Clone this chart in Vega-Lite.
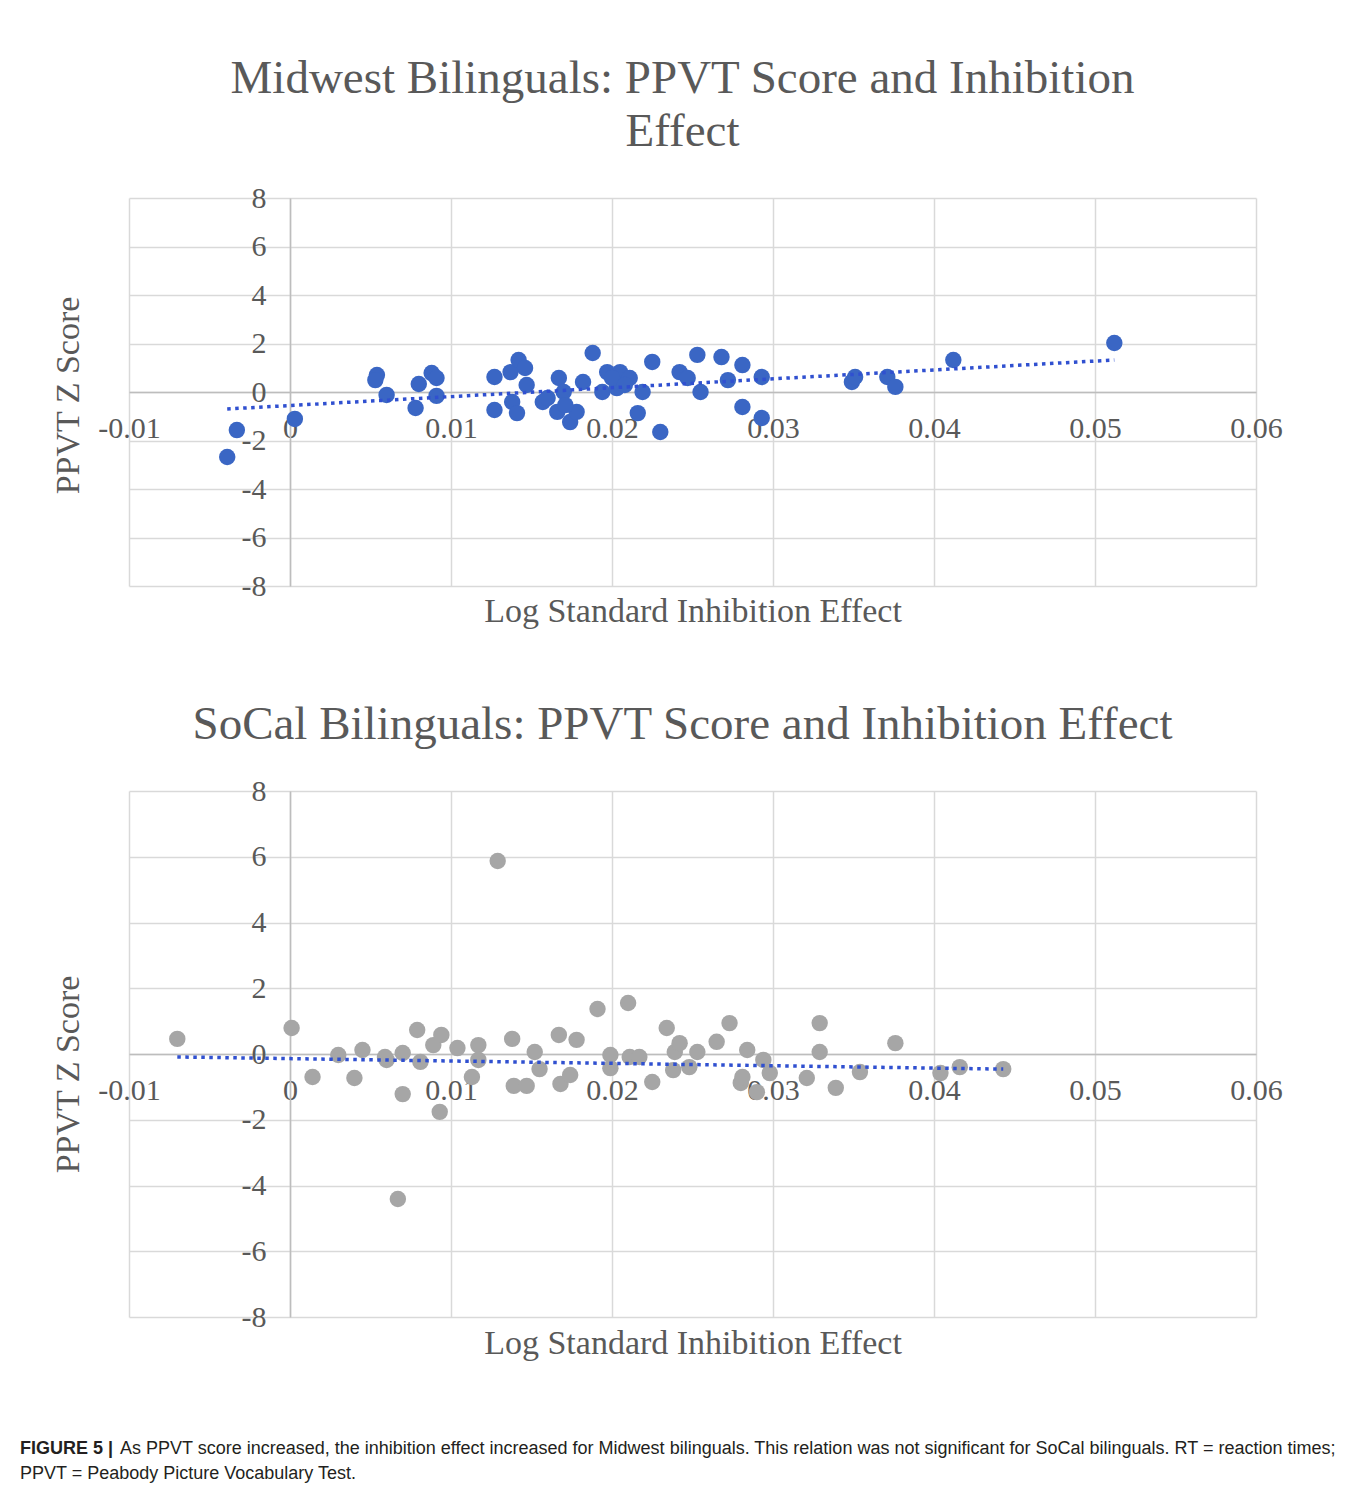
{
  "$schema": "https://vega.github.io/schema/vega-lite/v6.json",
  "background": "white",
  "padding": {"left": 19, "top": 55, "right": 10, "bottom": 10},
  "spacing": 73,
  "config": {
    "view": {"stroke": null},
    "font": "Liberation Serif",
    "axis": {
      "grid": true,
      "gridColor": "#d9d9d9",
      "gridWidth": 1.5,
      "domainColor": "#bdbdbd",
      "domainWidth": 1.5,
      "ticks": false,
      "labelFont": "Liberation Serif",
      "labelFontSize": 30,
      "labelColor": "#595959",
      "labelOverlap": false,
      "labelBound": false,
      "labelFlush": false,
      "titleFont": "Liberation Serif",
      "titleFontSize": 34,
      "titleFontWeight": "normal",
      "titleColor": "#595959"
    },
    "title": {"font": "Liberation Serif", "fontSize": 47, "fontWeight": "normal", "color": "#595959"}
  },
  "datasets": {
    "midwest": [
      {"effect": -0.0039, "ppvt": -2.68}, {"effect": -0.0033, "ppvt": -1.57}, {"effect": 0.0003, "ppvt": -1.11},
      {"effect": 0.0054, "ppvt": 0.70}, {"effect": 0.0053, "ppvt": 0.49}, {"effect": 0.0060, "ppvt": -0.12},
      {"effect": 0.0078, "ppvt": -0.66}, {"effect": 0.0080, "ppvt": 0.33}, {"effect": 0.0088, "ppvt": 0.78},
      {"effect": 0.0091, "ppvt": 0.58}, {"effect": 0.0091, "ppvt": -0.16}, {"effect": 0.0127, "ppvt": 0.62},
      {"effect": 0.0127, "ppvt": -0.74}, {"effect": 0.0137, "ppvt": 0.82}, {"effect": 0.0142, "ppvt": 1.32},
      {"effect": 0.0146, "ppvt": 0.99}, {"effect": 0.0147, "ppvt": 0.29}, {"effect": 0.0138, "ppvt": -0.41},
      {"effect": 0.0141, "ppvt": -0.87}, {"effect": 0.0157, "ppvt": -0.41}, {"effect": 0.0167, "ppvt": 0.58},
      {"effect": 0.0170, "ppvt": 0.0}, {"effect": 0.0166, "ppvt": -0.82}, {"effect": 0.0174, "ppvt": -1.24},
      {"effect": 0.0178, "ppvt": -0.82}, {"effect": 0.0182, "ppvt": 0.41}, {"effect": 0.0188, "ppvt": 1.61},
      {"effect": 0.0197, "ppvt": 0.82}, {"effect": 0.0205, "ppvt": 0.82}, {"effect": 0.0194, "ppvt": 0.0},
      {"effect": 0.0203, "ppvt": 0.16}, {"effect": 0.0211, "ppvt": 0.58}, {"effect": 0.0219, "ppvt": 0.0},
      {"effect": 0.0216, "ppvt": -0.87}, {"effect": 0.0225, "ppvt": 1.24}, {"effect": 0.0230, "ppvt": -1.65},
      {"effect": 0.0242, "ppvt": 0.82}, {"effect": 0.0247, "ppvt": 0.58}, {"effect": 0.0255, "ppvt": 0.0},
      {"effect": 0.0253, "ppvt": 1.53}, {"effect": 0.0268, "ppvt": 1.44}, {"effect": 0.0281, "ppvt": 1.11},
      {"effect": 0.0272, "ppvt": 0.49}, {"effect": 0.0293, "ppvt": 0.62}, {"effect": 0.0281, "ppvt": -0.62},
      {"effect": 0.0293, "ppvt": -1.07}, {"effect": 0.0349, "ppvt": 0.41}, {"effect": 0.0351, "ppvt": 0.62},
      {"effect": 0.0371, "ppvt": 0.62}, {"effect": 0.0376, "ppvt": 0.21}, {"effect": 0.0412, "ppvt": 1.32},
      {"effect": 0.0512, "ppvt": 2.02}, {"effect": 0.0200, "ppvt": 0.58}, {"effect": 0.0208, "ppvt": 0.29},
      {"effect": 0.0171, "ppvt": -0.54}, {"effect": 0.0160, "ppvt": -0.25}
    ],
    "midwest_trend": [
      {"effect": -0.0039, "ppvt": -0.70}, {"effect": 0.0512, "ppvt": 1.32}
    ],
    "socal": [
      {"effect": -0.0070, "ppvt": 0.46}, {"effect": 0.0001, "ppvt": 0.79}, {"effect": 0.0014, "ppvt": -0.70},
      {"effect": 0.0030, "ppvt": -0.03}, {"effect": 0.0040, "ppvt": -0.73}, {"effect": 0.0045, "ppvt": 0.12},
      {"effect": 0.0060, "ppvt": -0.18}, {"effect": 0.0070, "ppvt": 0.03}, {"effect": 0.0059, "ppvt": -0.09},
      {"effect": 0.0079, "ppvt": 0.73}, {"effect": 0.0081, "ppvt": -0.24}, {"effect": 0.0070, "ppvt": -1.22},
      {"effect": 0.0067, "ppvt": -4.41}, {"effect": 0.0089, "ppvt": 0.27}, {"effect": 0.0094, "ppvt": 0.58},
      {"effect": 0.0093, "ppvt": -1.76}, {"effect": 0.0104, "ppvt": 0.18}, {"effect": 0.0117, "ppvt": 0.27},
      {"effect": 0.0113, "ppvt": -0.70}, {"effect": 0.0117, "ppvt": -0.18}, {"effect": 0.0129, "ppvt": 5.87},
      {"effect": 0.0138, "ppvt": 0.46}, {"effect": 0.0139, "ppvt": -0.97}, {"effect": 0.0147, "ppvt": -0.97},
      {"effect": 0.0152, "ppvt": 0.06}, {"effect": 0.0155, "ppvt": -0.46}, {"effect": 0.0167, "ppvt": 0.58},
      {"effect": 0.0178, "ppvt": 0.43}, {"effect": 0.0168, "ppvt": -0.91}, {"effect": 0.0174, "ppvt": -0.64},
      {"effect": 0.0191, "ppvt": 1.37}, {"effect": 0.0210, "ppvt": 1.55}, {"effect": 0.0199, "ppvt": -0.03},
      {"effect": 0.0211, "ppvt": -0.09}, {"effect": 0.0217, "ppvt": -0.09}, {"effect": 0.0199, "ppvt": -0.43},
      {"effect": 0.0225, "ppvt": -0.85}, {"effect": 0.0234, "ppvt": 0.79}, {"effect": 0.0239, "ppvt": 0.06},
      {"effect": 0.0238, "ppvt": -0.49}, {"effect": 0.0242, "ppvt": 0.33}, {"effect": 0.0253, "ppvt": 0.06},
      {"effect": 0.0248, "ppvt": -0.40}, {"effect": 0.0265, "ppvt": 0.37}, {"effect": 0.0273, "ppvt": 0.94},
      {"effect": 0.0284, "ppvt": 0.12}, {"effect": 0.0280, "ppvt": -0.88}, {"effect": 0.0294, "ppvt": -0.18},
      {"effect": 0.0290, "ppvt": -1.16}, {"effect": 0.0281, "ppvt": -0.70}, {"effect": 0.0298, "ppvt": -0.58},
      {"effect": 0.0321, "ppvt": -0.73}, {"effect": 0.0329, "ppvt": 0.94}, {"effect": 0.0329, "ppvt": 0.06},
      {"effect": 0.0339, "ppvt": -1.03}, {"effect": 0.0354, "ppvt": -0.55}, {"effect": 0.0376, "ppvt": 0.33},
      {"effect": 0.0404, "ppvt": -0.58}, {"effect": 0.0416, "ppvt": -0.40}, {"effect": 0.0443, "ppvt": -0.46}
    ],
    "socal_trend": [
      {"effect": -0.0070, "ppvt": -0.09}, {"effect": 0.0443, "ppvt": -0.46}
    ]
  },
  "title": {
    "text": "FIGURE 5 |",
    "subtitle": [
      "\u200b\u00a0\u00a0\u00a0\u00a0\u00a0\u00a0\u00a0\u00a0\u00a0\u00a0\u00a0\u00a0\u00a0\u00a0\u00a0\u00a0\u00a0\u00a0\u00a0\u00a0As PPVT score increased, the inhibition effect increased for Midwest bilinguals. This relation was not significant for SoCal bilinguals. RT = reaction times;",
      "PPVT = Peabody Picture Vocabulary Test."
    ],
    "orient": "bottom",
    "anchor": "start",
    "font": "Liberation Sans",
    "fontSize": 18,
    "fontWeight": "bold",
    "color": "#231f20",
    "subtitleFont": "Liberation Sans",
    "subtitleFontSize": 18,
    "subtitleColor": "#231f20",
    "subtitlePadding": -18,
    "subtitleLineHeight": 25,
    "offset": 80,
    "dx": -31
  },
  "vconcat": [
    {
      "width": 1127,
      "height": 388,
      "title": {"text": ["Midwest Bilinguals: PPVT Score and Inhibition", "Effect"], "lineHeight": 53, "offset": 27, "dx": -10},
      "layer": [
        {
          "data": {"name": "midwest"},
          "mark": {"type": "circle", "size": 270, "color": "#3a66c4", "opacity": 1},
          "encoding": {
            "x": {
              "field": "effect", "type": "quantitative",
              "scale": {"domain": [-0.01, 0.06], "nice": false, "zero": false},
              "axis": {
                "values": [-0.01, 0, 0.01, 0.02, 0.03, 0.04, 0.05, 0.06],
                "offset": -194,
                "labelPadding": 21,
                "labelExpr": "datum.value < 0 ? '-' + format(-datum.value, '~g') : format(datum.value, '~g')",
                "title": "Log Standard Inhibition Effect",
                "titleY": 219,
                "titleBaseline": "middle"
              }
            },
            "y": {
              "field": "ppvt", "type": "quantitative",
              "scale": {"domain": [-8, 8], "nice": false},
              "axis": {
                "values": [-8, -6, -4, -2, 0, 2, 4, 6, 8],
                "offset": -161,
                "labelPadding": 24,
                "labelExpr": "datum.value < 0 ? '-' + format(-datum.value, '~g') : format(datum.value, '~g')",
                "title": "PPVT Z Score",
                "titleX": -222,
                "titleY": 197,
                "titleBaseline": "middle"
              }
            }
          }
        },
        {
          "data": {"name": "midwest_trend"},
          "mark": {"type": "line", "color": "#3050d0", "strokeWidth": 3.5, "strokeDash": [3.5, 4.5]},
          "encoding": {
            "x": {"field": "effect", "type": "quantitative"},
            "y": {"field": "ppvt", "type": "quantitative"}
          }
        }
      ]
    },
    {
      "width": 1127,
      "height": 526,
      "title": {"text": "SoCal Bilinguals: PPVT Score and Inhibition Effect", "offset": 27, "dx": -10},
      "layer": [
        {
          "data": {"name": "socal"},
          "mark": {"type": "circle", "size": 270, "color": "#a6a6a6", "opacity": 1},
          "encoding": {
            "x": {
              "field": "effect", "type": "quantitative",
              "scale": {"domain": [-0.01, 0.06], "nice": false, "zero": false},
              "axis": {
                "values": [-0.01, 0, 0.01, 0.02, 0.03, 0.04, 0.05, 0.06],
                "offset": -263,
                "labelPadding": 21,
                "labelExpr": "datum.value < 0 ? '-' + format(-datum.value, '~g') : format(datum.value, '~g')",
                "title": "Log Standard Inhibition Effect",
                "titleY": 289,
                "titleBaseline": "middle"
              }
            },
            "y": {
              "field": "ppvt", "type": "quantitative",
              "scale": {"domain": [-8, 8], "nice": false},
              "axis": {
                "values": [-8, -6, -4, -2, 0, 2, 4, 6, 8],
                "offset": -161,
                "labelPadding": 24,
                "labelExpr": "datum.value < 0 ? '-' + format(-datum.value, '~g') : format(datum.value, '~g')",
                "title": "PPVT Z Score",
                "titleX": -222,
                "titleY": 283,
                "titleBaseline": "middle"
              }
            }
          }
        },
        {
          "data": {"name": "socal_trend"},
          "mark": {"type": "line", "color": "#3050d0", "strokeWidth": 3.5, "strokeDash": [3.5, 4.5]},
          "encoding": {
            "x": {"field": "effect", "type": "quantitative"},
            "y": {"field": "ppvt", "type": "quantitative"}
          }
        }
      ]
    }
  ]
}
